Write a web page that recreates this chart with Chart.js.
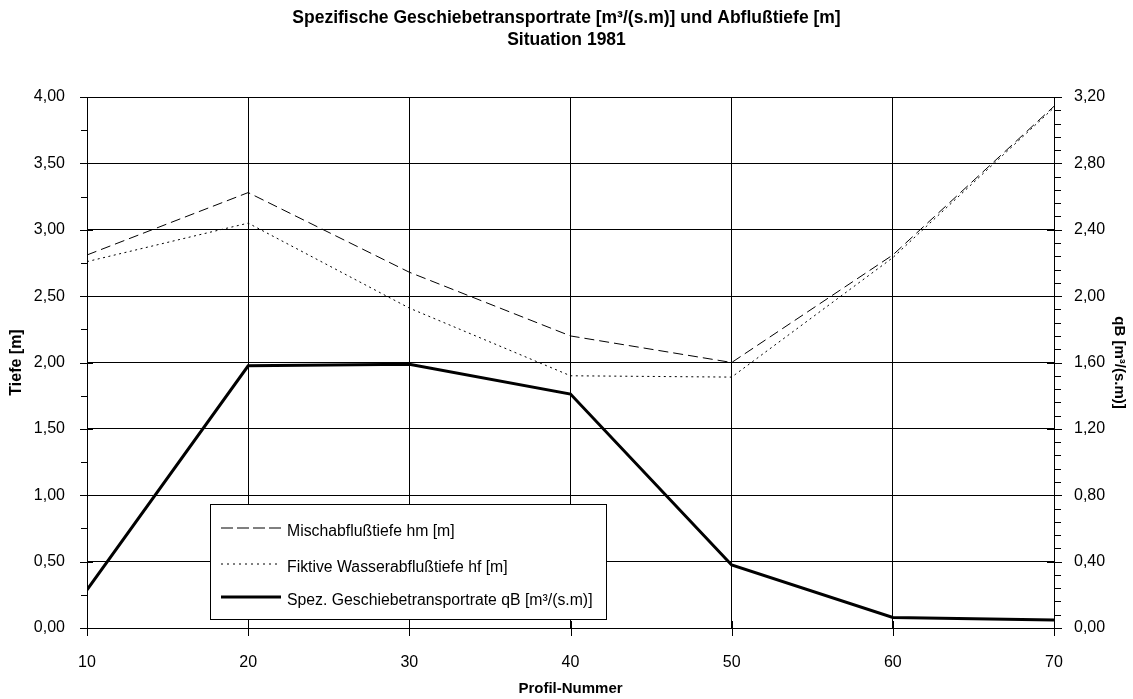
<!DOCTYPE html>
<html lang="de">
<head>
<meta charset="UTF-8">
<title>Geschiebetransportrate und Abflußtiefe 1981</title>
<script src="https://cdn.jsdelivr.net/npm/chart.js"></script>
<style>
    body {
        margin: 0;
        background: #fff;
    }
    canvas {
        display: block;
    }
</style>
</head>
<body>
<canvas id="chart" width="1133" height="699"></canvas>
<script>
    // Profil-Nummern (x)
    const profile = [10, 20, 30, 40, 50, 60, 70];
    // Mischabflußtiefe hm [m] (linke Achse)
    const hm = [2.81, 3.28, 2.68, 2.20, 2.00, 2.81, 3.93];
    // Fiktive Wasserabflußtiefe hf [m] (linke Achse)
    const hf = [2.76, 3.05, 2.41, 1.90, 1.89, 2.79, 3.92];
    // Spez. Geschiebetransportrate qB [m³/(s.m)] (rechte Achse)
    const qB = [0.23, 1.58, 1.59, 1.41, 0.38, 0.064, 0.048];

    const titleLines = ['Spezifische Geschiebetransportrate [m³/(s.m)] und Abflußtiefe [m]', 'Situation 1981'];
    const labelHm = 'Mischabflußtiefe hm [m]';
    const labelHf = 'Fiktive Wasserabflußtiefe hf [m]';
    const labelQb = 'Spez. Geschiebetransportrate qB [m³/(s.m)]';

    const FONT = "'Liberation Sans', Arial, sans-serif";
    Chart.defaults.font.family = FONT;
    Chart.defaults.color = '#000';

    function toPoints(values) {
        return profile.map((p, i) => ({ x: p, y: values[i] }));
    }

    function komma(v) {
        return Number(v).toFixed(2).replace('.', ',');
    }

    // Achsenstriche (Haupt- und Zwischenstriche)
    const axisTicks = {
        id: 'axisTicks',
        afterDraw(chart) {
            const { ctx, chartArea: a, scales } = chart;
            const px = v => Math.round(v) + 0.5;
            ctx.save();
            ctx.strokeStyle = '#000';
            ctx.lineWidth = 1;
            ctx.beginPath();
            // linke Achse
            for (let i = 0; i <= 16; i++) {
                const yy = px(scales.y.getPixelForValue(i * 0.25));
                if (i % 2 === 0) {
                    ctx.moveTo(a.left - 7, yy); ctx.lineTo(a.left + 6, yy);
                } else {
                    ctx.moveTo(a.left - 6, yy); ctx.lineTo(a.left, yy);
                }
            }
            // rechte Achse
            for (let i = 0; i <= 40; i++) {
                const yy = px(scales.y1.getPixelForValue(i * 0.08));
                if (i % 5 === 0) {
                    ctx.moveTo(a.right - 7, yy); ctx.lineTo(a.right + 8, yy);
                } else {
                    ctx.moveTo(a.right, yy); ctx.lineTo(a.right + 7, yy);
                }
            }
            // x-Achse
            profile.forEach(p => {
                const xx = px(scales.x.getPixelForValue(p));
                ctx.moveTo(xx, a.bottom - 7); ctx.lineTo(xx, a.bottom + 8);
            });
            ctx.stroke();
            ctx.restore();
        }
    };

    // Legende im Diagramm
    const boxLegend = {
        id: 'boxLegend',
        afterDraw(chart) {
            const { ctx } = chart;
            const bx = 210, by = 504, bw = 396, bh = 115;
            ctx.save();
            ctx.fillStyle = '#fff';
            ctx.fillRect(bx, by, bw, bh);
            ctx.strokeStyle = '#000';
            ctx.lineWidth = 1;
            ctx.strokeRect(bx + 0.5, by + 0.5, bw, bh);
            const rows = [24, 60, 93];
            ctx.font = '15.8px ' + FONT;
            ctx.textBaseline = 'middle';
            ctx.textAlign = 'left';
            chart.data.datasets.forEach((ds, i) => {
                const yy = by + rows[i];
                ctx.beginPath();
                ctx.strokeStyle = ds.borderColor;
                ctx.lineWidth = ds.borderWidth;
                ctx.setLineDash(ds.legendDash || []);
                ctx.moveTo(221, yy);
                ctx.lineTo(281, yy);
                ctx.stroke();
                ctx.setLineDash([]);
                ctx.fillStyle = '#000';
                ctx.fillText(ds.label, 287, yy + 4);
            });
            ctx.restore();
        }
    };

    const ctx = document.getElementById('chart').getContext('2d');
    const chart = new Chart(ctx, {
        type: 'line',
        data: {
            datasets: [
                {
                    label: labelHm,
                    data: toPoints(hm),
                    yAxisID: 'y',
                    borderColor: '#000',
                    borderWidth: 1,
                    borderDash: [10, 5],
                    legendDash: [12, 4],
                    pointRadius: 0,
                    tension: 0,
                    fill: false
                },
                {
                    label: labelHf,
                    data: toPoints(hf),
                    yAxisID: 'y',
                    borderColor: '#000',
                    borderWidth: 1,
                    borderDash: [2, 3.5],
                    legendDash: [2, 4],
                    pointRadius: 0,
                    tension: 0,
                    fill: false
                },
                {
                    label: labelQb,
                    data: toPoints(qB),
                    yAxisID: 'y1',
                    borderColor: '#000',
                    borderWidth: 3,
                    pointRadius: 0,
                    tension: 0,
                    fill: false
                }
            ]
        },
        options: {
            responsive: false,
            animation: false,
            layout: { padding: 0 },
            plugins: {
                legend: { display: false },
                tooltip: { enabled: false },
                title: {
                    display: true,
                    text: titleLines,
                    color: '#000',
                    font: { size: 17.5, weight: 'bold', lineHeight: 22 / 17.5 },
                    padding: { top: 7, bottom: 46 }
                }
            },
            scales: {
                x: {
                    type: 'linear',
                    min: 10,
                    max: 70,
                    ticks: { stepSize: 10, padding: 25, font: { size: 16 }, color: '#000' },
                    grid: { color: '#000', drawTicks: false },
                    border: { color: '#000' },
                    title: {
                        display: true,
                        text: 'Profil-Nummer',
                        color: '#000',
                        font: { size: 15, weight: 'bold' },
                        padding: { top: 0, bottom: 1.5 }
                    },
                    afterFit(scale) { scale.height = 71; }
                },
                y: {
                    position: 'left',
                    min: 0,
                    max: 4,
                    ticks: { stepSize: 0.5, padding: 22, font: { size: 16 }, color: '#000', callback: v => komma(v) },
                    grid: { color: '#000', drawTicks: false },
                    border: { color: '#000' },
                    title: {
                        display: true,
                        text: 'Tiefe [m]',
                        color: '#000',
                        font: { size: 16, weight: 'bold' },
                        padding: { top: 7.4, bottom: 0 }
                    },
                    afterFit(scale) { scale.width = 87; }
                },
                y1: {
                    position: 'right',
                    min: 0,
                    max: 3.2,
                    ticks: { stepSize: 0.4, padding: 20, font: { size: 16 }, color: '#000', callback: v => komma(v) },
                    grid: { display: false, drawTicks: false },
                    border: { color: '#000' },
                    title: {
                        display: true,
                        text: 'qB [m³/(s.m)]',
                        color: '#000',
                        font: { size: 15, weight: 'bold' },
                        padding: { top: 5, bottom: 0 }
                    },
                    afterFit(scale) { scale.width = 79; }
                }
            }
        },
        plugins: [axisTicks, boxLegend]
    });
</script>
</body>
</html>
